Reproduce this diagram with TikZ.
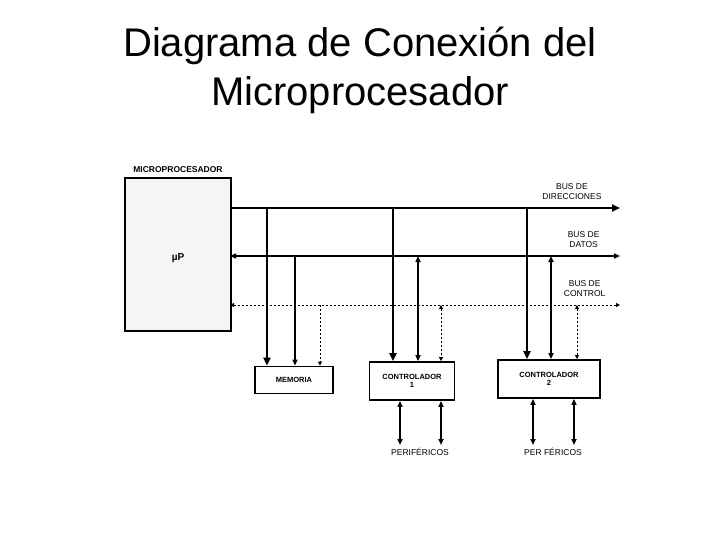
\documentclass[tikz,border=0pt]{standalone}
\usepackage{fontspec}
\setmainfont{Liberation Sans}
\usetikzlibrary{arrows.meta}
\begin{document}
\begin{tikzpicture}[x=1pt,y=-1pt,
    bus/.style={line width=2.6pt},
    dbus/.style={line width=1.6pt},
    cbus/.style={line width=0.9pt, dash pattern=on 2pt off 2pt},
    box/.style={draw, line width=1.8pt, font=\fontsize{7.5}{8.5}\selectfont\bfseries, align=center, inner sep=0pt},
    lbl/.style={font=\fontsize{8.5}{9.5}\selectfont, align=center}]
  \useasboundingbox (0,0) rectangle (720,540);
  \node[font=\fontsize{40}{49}\selectfont, align=center] (title) at (360,70) {Diagrama de Conexión del\\Microprocesador};
  % bloques
  \node[draw, line width=1.6pt, fill=gray!8, minimum width=106pt, minimum height=153pt, anchor=north west] (up) at (124,177) {};
  \node[font=\bfseries\fontsize{10}{11}\selectfont] at (178,258) {µP};
  \node[font=\bfseries\fontsize{8.5}{9}\selectfont] at (178,170) {MICROPROCESADOR};
  \node[box, minimum width=78pt, minimum height=27pt] (mem) at (294,380) {MEMORIA};
  \node[box, minimum width=85pt, minimum height=38pt] (c1) at (412,381) {CONTROLADOR\\1};
  \node[box, minimum width=102pt, minimum height=38pt] (c2) at (549,379) {CONTROLADOR\\2};
  % buses
  \coordinate (a0) at (230,208); \coordinate (a1) at (620,208);
  \coordinate (d0) at (230,256); \coordinate (d1) at (620,256);
  \coordinate (k0) at (230,305); \coordinate (k1) at (620,305);
  \draw[bus, -{Triangle[length=8pt,width=7pt]}] (a0) -- (a1);
  \draw[dbus, {Triangle[length=6pt,width=5pt]}-{Triangle[length=6pt,width=5pt]}] (d0) -- (d1);
  \draw[cbus, {Triangle[length=4pt,width=4pt]}-{Triangle[length=4pt,width=4pt]}] (k0) -- (k1);
  \node[lbl, anchor=south east] at (605,203) {BUS DE\\DIRECCIONES};
  \node[lbl, anchor=south east] at (603,251) {BUS DE\\DATOS};
  \node[lbl, anchor=south east] at (609,300) {BUS DE\\CONTROL};
  % bus de direcciones
  \foreach \x/\n in {267/mem, 393/c1, 527/c2}
    \draw[bus, -{Triangle[length=8pt,width=7pt]}] (\x,208) -- (\x,0 |- \n.north);
  % bus de datos
  \draw[dbus, -{Triangle[length=6pt,width=5pt]}] (295,256) -- (295,0 |- mem.north);
  \foreach \x/\n in {418/c1, 551/c2}
    \draw[dbus, {Triangle[length=6pt,width=5pt]}-{Triangle[length=6pt,width=5pt]}] (\x,256) -- (\x,0 |- \n.north);
  % bus de control
  \draw[cbus, -{Triangle[length=4pt,width=4pt]}] (320,305) -- (320,0 |- mem.north);
  \foreach \x/\n in {441/c1, 577/c2}
    \draw[cbus, {Triangle[length=4pt,width=4pt]}-{Triangle[length=4pt,width=4pt]}] (\x,305) -- (\x,0 |- \n.north);
  % perifericos
  \foreach \x/\n in {400/c1, 441/c1, 533/c2, 574/c2}
    \draw[dbus, {Triangle[length=6pt,width=5pt]}-{Triangle[length=6pt,width=5pt]}] (\x,0 |- \n.south) -- (\x,445);
  \node[lbl] (p1) at (420,452) {PERIFÉRICOS};
  \node[lbl] (p2) at (553,452) {PER FÉRICOS};
\end{tikzpicture}
\end{document}
